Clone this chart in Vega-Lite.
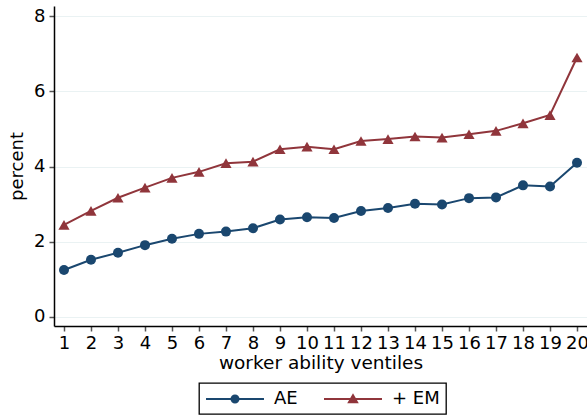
{
  "$schema": "https://vega.github.io/schema/vega-lite/v6.json",
  "width": 533,
  "height": 320,
  "autosize": {"type": "none"},
  "padding": {"left": 54, "top": 6, "right": 0, "bottom": 90},
  "background": "white",
  "config": {"view": {"stroke": null}, "font": "DejaVu Sans"},
  "data": {
    "values": [
      {"ventile": 1, "series": "AE", "pct": 1.25},
      {"ventile": 2, "series": "AE", "pct": 1.52},
      {"ventile": 3, "series": "AE", "pct": 1.71},
      {"ventile": 4, "series": "AE", "pct": 1.91},
      {"ventile": 5, "series": "AE", "pct": 2.08},
      {"ventile": 6, "series": "AE", "pct": 2.21},
      {"ventile": 7, "series": "AE", "pct": 2.27},
      {"ventile": 8, "series": "AE", "pct": 2.36},
      {"ventile": 9, "series": "AE", "pct": 2.59},
      {"ventile": 10, "series": "AE", "pct": 2.65},
      {"ventile": 11, "series": "AE", "pct": 2.63},
      {"ventile": 12, "series": "AE", "pct": 2.82},
      {"ventile": 13, "series": "AE", "pct": 2.9},
      {"ventile": 14, "series": "AE", "pct": 3.01},
      {"ventile": 15, "series": "AE", "pct": 2.99},
      {"ventile": 16, "series": "AE", "pct": 3.16},
      {"ventile": 17, "series": "AE", "pct": 3.18},
      {"ventile": 18, "series": "AE", "pct": 3.5},
      {"ventile": 19, "series": "AE", "pct": 3.47},
      {"ventile": 20, "series": "AE", "pct": 4.1},
      {"ventile": 1, "series": "+ EM", "pct": 2.45},
      {"ventile": 2, "series": "+ EM", "pct": 2.82},
      {"ventile": 3, "series": "+ EM", "pct": 3.17},
      {"ventile": 4, "series": "+ EM", "pct": 3.44},
      {"ventile": 5, "series": "+ EM", "pct": 3.7},
      {"ventile": 6, "series": "+ EM", "pct": 3.86},
      {"ventile": 7, "series": "+ EM", "pct": 4.09},
      {"ventile": 8, "series": "+ EM", "pct": 4.13},
      {"ventile": 9, "series": "+ EM", "pct": 4.46},
      {"ventile": 10, "series": "+ EM", "pct": 4.53},
      {"ventile": 11, "series": "+ EM", "pct": 4.46},
      {"ventile": 12, "series": "+ EM", "pct": 4.68},
      {"ventile": 13, "series": "+ EM", "pct": 4.73},
      {"ventile": 14, "series": "+ EM", "pct": 4.8},
      {"ventile": 15, "series": "+ EM", "pct": 4.77},
      {"ventile": 16, "series": "+ EM", "pct": 4.86},
      {"ventile": 17, "series": "+ EM", "pct": 4.95},
      {"ventile": 18, "series": "+ EM", "pct": 5.15},
      {"ventile": 19, "series": "+ EM", "pct": 5.37},
      {"ventile": 20, "series": "+ EM", "pct": 6.9}
    ]
  },
  "encoding": {
    "x": {
      "field": "ventile",
      "type": "quantitative",
      "scale": {"domain": [0.63, 20.37], "nice": false, "zero": false},
      "axis": {
        "values": [1, 2, 3, 4, 5, 6, 7, 8, 9, 10, 11, 12, 13, 14, 15, 16, 17, 18, 19, 20],
        "title": "worker ability ventiles",
        "grid": false,
        "labelFontSize": 18,
        "titleFontSize": 18.5,
        "titleFontWeight": "normal",
        "labelColor": "#000",
        "titleColor": "#000",
        "domainColor": "#000",
        "domainWidth": 1.5,
        "tickColor": "#555",
        "tickWidth": 1.5,
        "tickSize": 5,
        "labelPadding": 3,
        "titlePadding": 1,
        "labelFlush": false,
        "labelOverlap": false
      }
    },
    "y": {
      "field": "pct",
      "type": "quantitative",
      "scale": {"domain": [-0.24, 8.27], "nice": false, "zero": false},
      "axis": {
        "values": [0, 2, 4, 6, 8],
        "title": "percent",
        "grid": true,
        "gridColor": "#eaf2f3",
        "gridWidth": 1.2,
        "labelFontSize": 18,
        "titleFontSize": 18,
        "titleFontWeight": "normal",
        "labelColor": "#000",
        "titleColor": "#000",
        "domainColor": "#000",
        "domainWidth": 1.5,
        "tickColor": "#555",
        "tickWidth": 1.5,
        "tickSize": 5,
        "labelPadding": 4,
        "titlePadding": 7,
        "labelFlush": false
      }
    },
    "color": {
      "field": "series",
      "type": "nominal",
      "scale": {"domain": ["AE", "+ EM"], "range": ["#1a476f", "#90353b"]},
      "legend": {
        "orient": "none",
        "legendX": 145,
        "legendY": 377,
        "direction": "horizontal",
        "title": null,
        "strokeColor": "#000",
        "padding": 6,
        "labelFontSize": 18,
        "labelColor": "#000",
        "symbolSize": 324,
        "symbolStrokeWidth": 2,
        "symbolOffset": 20,
        "labelOffset": 29,
        "columnPadding": 22,
        "encode": {
          "legend": {"update": {"strokeWidth": {"value": 1.3}}},
          "symbols": {
            "update": {
              "shape": {"signal": "datum.value === 'AE' ? 'M-3.22,0H3.22M-0.39,0A0.39,0.39 0 1,0 0.39,0A0.39,0.39 0 1,0 -0.39,0Z' : 'M-3.22,0H3.22M0,-0.42L0.45,0.36L-0.45,0.36Z'"},
              "fill": {"signal": "datum.value === 'AE' ? '#1a476f' : '#90353b'"},
              "stroke": {"signal": "datum.value === 'AE' ? '#1a476f' : '#90353b'"},
              "opacity": {"value": 1}
            }
          }
        }
      }
    }
  },
  "layer": [
    {"mark": {"type": "line", "strokeWidth": 2}},
    {
      "mark": {"type": "point", "filled": true, "opacity": 1},
      "encoding": {
        "shape": {"condition": {"test": "datum.series === 'AE'", "value": "circle"}, "value": "triangle-up"},
        "size": {"condition": {"test": "datum.series === 'AE'", "value": 100}, "value": 125}
      }
    }
  ]
}
